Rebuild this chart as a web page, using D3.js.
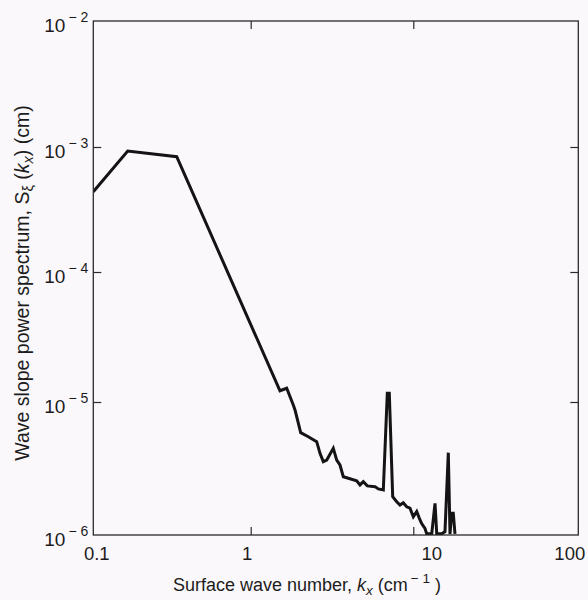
<!DOCTYPE html>
<html>
<head>
<meta charset="utf-8">
<script src="https://cdn.jsdelivr.net/npm/d3@7/dist/d3.min.js"></script>
<style>
  html, body { margin: 0; padding: 0; background: #fbf8fb; }
  svg { display: block; }
  text { font-family: "Liberation Sans", Arial, Helvetica, sans-serif; fill: #1c1c1c; }
</style>
</head>
<body>
<svg id="chart" width="588" height="600"></svg>
<script>
// ---- data ----
const kx = [0.1, 0.1654, 0.3388, 1.514, 1.665, 1.828, 1.873, 2.030, 2.261, 2.546, 2.668, 2.796, 2.935,
            3.221, 3.381, 3.541, 3.711, 3.983, 4.486, 4.700, 4.925, 5.213, 5.814, 6.091, 6.540,
            6.920, 7.119, 7.470, 7.905, 8.284, 8.678, 9.108, 9.544, 10.0, 10.49, 10.87, 11.24,
            11.77, 12.06, 12.93, 13.54, 13.87, 14.86, 15.56, 16.30, 16.69, 17.09, 17.47, 17.89];
const slope = [4.39e-4, 9.29e-4, 8.36e-4, 1.22e-5, 1.275e-5, 9.49e-6, 8.71e-6, 5.88e-6, 5.48e-6, 5.03e-6,
               4.11e-6, 3.56e-6, 3.66e-6, 4.49e-6, 3.66e-6, 3.36e-6, 2.74e-6, 2.67e-6, 2.56e-6, 2.38e-6,
               2.52e-6, 2.34e-6, 2.31e-6, 2.22e-6, 2.18e-6, 1.167e-5, 1.167e-5, 1.94e-6, 1.78e-6, 1.68e-6,
               1.75e-6, 1.63e-6, 1.59e-6, 1.37e-6, 1.50e-6, 1.34e-6, 1.22e-6, 1.12e-6, 1.02e-6, 1.02e-6,
               1.73e-6, 1.02e-6, 1.02e-6, 1.06e-6, 4.16e-6, 1.02e-6, 1.46e-6, 1.46e-6, 1.02e-6];
const xTicks = [0.1, 1, 10, 100];
const xTickLabels = ["0.1", "1", "10", "100"];
const yTicks = [1e-6, 1e-5, 1e-4, 1e-3, 1e-2];
const yTickExponents = ["6", "5", "4", "3", "2"];

// ---- layout ----
const L = 93.3, R = 578.3, T = 21, B = 535;
const svg = d3.select("#chart");

// piecewise log scales (the scanned figure's decades are not exactly equal)
const x = d3.scaleLog().domain([0.1, 1, 10, 100]).range([L, 250.7, 413.3, R]);
const y = d3.scaleLog().domain([1e-6, 1e-5, 1e-4, 1e-3, 1e-2]).range([B, 402, 272, 147, T]);

svg.append("defs").append("clipPath").attr("id", "plotclip")
  .append("rect").attr("x", L).attr("y", T - 2).attr("width", R - L).attr("height", B - T + 2);

// data line
const line = d3.line().x((d, i) => x(kx[i])).y((d, i) => y(slope[i]));
svg.append("path")
  .datum(slope)
  .attr("clip-path", "url(#plotclip)")
  .attr("d", line)
  .attr("fill", "none")
  .attr("stroke", "#141414")
  .attr("stroke-width", 3)
  .attr("stroke-linejoin", "miter")
  .attr("stroke-miterlimit", 3);

// frame
svg.append("rect").attr("x", L).attr("y", T).attr("width", R - L).attr("height", B - T)
  .attr("fill", "none").attr("stroke", "#2a2a2a").attr("stroke-width", 1.3);

const axisColor = "#2a2a2a";
function styleAxis(g) {
  g.select(".domain").remove();
  g.selectAll(".tick line").attr("stroke", axisColor).attr("stroke-width", 1.2);
}

// bottom axis (ticks inward)
const gx = svg.append("g").attr("transform", `translate(0,${B})`)
  .call(d3.axisBottom(x).tickValues(xTicks).tickSizeInner(-8).tickSizeOuter(0)
        .tickFormat((d, i) => xTickLabels[i]));
styleAxis(gx);
gx.selectAll(".tick line").filter(d => d === 0.1 || d === 100).remove();
const xNudge = {"0.1": 3, "1": -4, "10": 18, "100": -9};
gx.selectAll(".tick text")
  .attr("y", 25).attr("dy", 0)
  .attr("dx", d => xNudge[d3.format("~g")(d)] || 0)
  .attr("font-size", 18.5).attr("fill", "#1c1c1c");

// top axis ticks (inward)
const gt = svg.append("g").attr("transform", `translate(0,${T})`)
  .call(d3.axisTop(x).tickValues([1, 10]).tickSizeInner(-8).tickSizeOuter(0).tickFormat(""));
styleAxis(gt);

// left axis
const gy = svg.append("g").attr("transform", `translate(${L},0)`)
  .call(d3.axisLeft(y).tickValues(yTicks).tickSizeInner(-8).tickSizeOuter(0).tickFormat(""));
styleAxis(gy);
gy.selectAll(".tick line").filter(d => d === 1e-6 || d === 1e-2).remove();
gy.selectAll(".tick").each(function(d, i) {
  const t = d3.select(this).append("text")
    .attr("x", -5).attr("y", 10).attr("text-anchor", "end")
    .attr("font-size", 19).attr("fill", "#1c1c1c");
  t.append("tspan").text("10");
  t.append("tspan").attr("font-size", 14).attr("dx", 3).attr("dy", -10).text("\u2212 " + yTickExponents[i]);
});

// right axis ticks (inward)
const gr = svg.append("g").attr("transform", `translate(${R},0)`)
  .call(d3.axisRight(y).tickValues([1e-5, 1e-4, 1e-3]).tickSizeInner(-8).tickSizeOuter(0).tickFormat(""));
styleAxis(gr);

// x axis title
const xt = svg.append("text").attr("x", 173).attr("y", 591).attr("font-size", 18);
xt.append("tspan").text("Surface wave number, ");
xt.append("tspan").attr("font-style", "italic").text("k");
xt.append("tspan").attr("font-style", "italic").attr("font-size", 13.5).attr("dy", 4).text("x");
xt.append("tspan").attr("dy", -4).text(" (cm");
xt.append("tspan").attr("font-size", 13.5).attr("dx", 3).attr("dy", -8).text("\u2212 1");
xt.append("tspan").attr("dy", 8).text(" )");

// y axis title
const yt = svg.append("text")
  .attr("transform", "translate(29,283) rotate(-90)")
  .attr("text-anchor", "middle").attr("font-size", 19.5);
yt.append("tspan").text("Wave slope power spectrum, S");
yt.append("tspan").attr("font-size", 14.5).attr("dy", 4).text("\u03be");
yt.append("tspan").attr("dy", -4).text(" (");
yt.append("tspan").attr("font-style", "italic").text("k");
yt.append("tspan").attr("font-style", "italic").attr("font-size", 14.5).attr("dy", 4).text("x");
yt.append("tspan").attr("dy", -4).text(") (cm)");
</script>
</body>
</html>
